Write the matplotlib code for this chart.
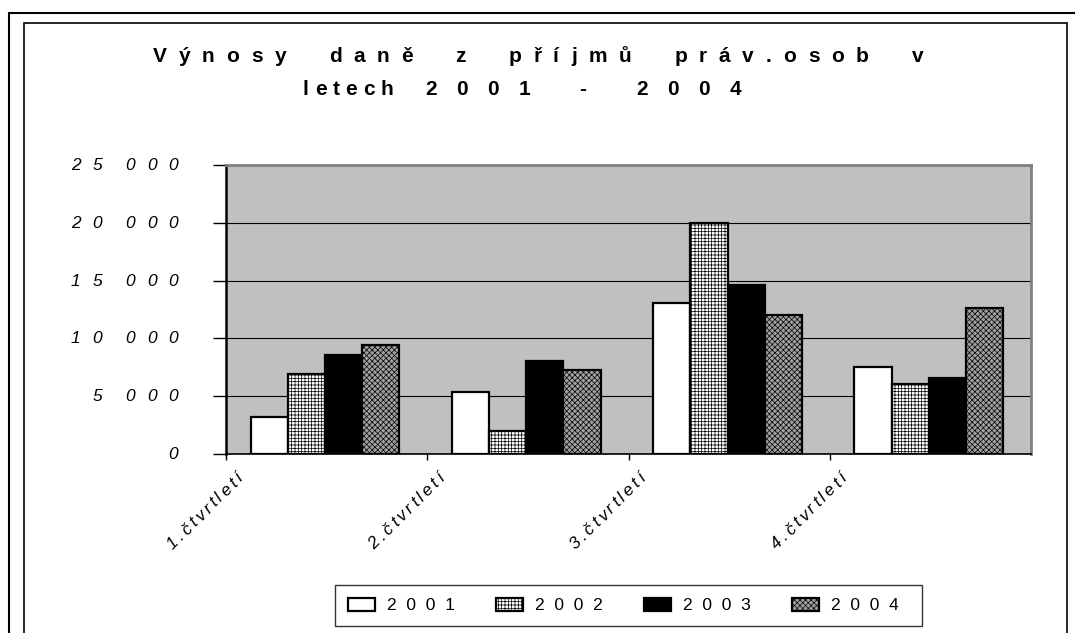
import numpy as np
import matplotlib.pyplot as plt
from matplotlib.patches import Rectangle
from matplotlib.font_manager import FontProperties

# ----------------------------------------------------------------------------------------------------------------------

quarters = ['1.čtvrtletí', '2.čtvrtletí', '3.čtvrtletí', '4.čtvrtletí']
years = ['2001', '2002', '2003', '2004']
v2001 = [3200, 5400, 13100, 7550]
v2002 = [6900, 2000, 20000, 6050]
v2003 = [8600, 8050, 14650, 6550]
v2004 = [9450, 7250, 12000, 12600]
y_ticks = [0, 5000, 10000, 15000, 20000, 25000]

title_1 = 'Výnosy daně z příjmů práv.osob v'
title_2a = 'letech'
title_2b = '2001 - 2004'

# ----------------------------------------------------------------------------------------------------------------------

W, H = 1075, 633
FAM = ['Liberation Sans', 'DejaVu Sans']
plt.rcParams['font.family'] = FAM
plt.rcParams['hatch.linewidth'] = 0.5


def glyph_w(renderer, ch, fp):
    w, h, d = renderer.get_text_width_height_descent(ch, fp, ismath=False)
    return w


def layout(renderer, s, fp, track, gap):
    # letter-spaced text, the way the old spreadsheet drew it
    items, x = [], 0.0
    for ch in s:
        if ch == ' ':
            x += gap
            continue
        items.append((ch, x))
        x += glyph_w(renderer, ch, fp) + track
    return items, x - track


def draw_spaced(fig, renderer, s, fp, x, y, track, gap, ha='center', angle=0.0):
    # x, y in pixels, y measured from the top of the picture; anchor on the baseline
    items, total = layout(renderer, s, fp, track, gap)
    if ha == 'center':
        start = -total / 2
    elif ha == 'right':
        start = -total
    else:
        start = 0.0
    c, sn = np.cos(np.radians(angle)), np.sin(np.radians(angle))
    for ch, off in items:
        d = start + off
        px, py = x + d * c, (H - y) + d * sn
        fig.text(px / W, py / H, ch, fontproperties=fp, ha='left', va='baseline',
                 rotation=angle, rotation_mode='anchor')

# ----------------------------------------------------------------------------------------------------------------------

fig = plt.figure(figsize=(W / 100, H / 100), dpi=100)
fig.patch.set_facecolor('white')
renderer = fig.canvas.get_renderer()

# frames
fig.patches.append(Rectangle((9 / W, -0.2), 2.0, (H - 12.7) / H + 0.2, transform=fig.transFigure,
                             fill=False, edgecolor='black', linewidth=1.5))
fig.patches.append(Rectangle((24 / W, -0.2), (1067 - 24) / W, (H - 23) / H + 0.2, transform=fig.transFigure,
                             fill=False, edgecolor='black', linewidth=1.2))

ax = fig.add_axes([226 / W, (H - 454) / H, (1031 - 226) / W, (454 - 165) / H])
ax.set_facecolor('#c0c0c0')

series = [v2001, v2002, v2003, v2004]
faces = ['white', 'white', 'black', '#a0a0a0']
hatches = [None, '+++++', None, 'xxxxxx']
bw = 0.185
x = np.arange(len(quarters))
for k, (vals, fc, h) in enumerate(zip(series, faces, hatches)):
    ax.bar(x + 0.122 + bw * (k + 0.5), vals, width=bw, color=fc, edgecolor='black',
           linewidth=1.6, hatch=h, zorder=3, label='  '.join(years[k]) + '  ')

ax.set_xlim(0, 4)
ax.set_ylim(0, 25000)
ax.set_yticks(y_ticks)
ax.set_xticks(x)
ax.yaxis.grid(True, color='black', linewidth=0.8, zorder=1)
ax.set_axisbelow(True)
ax.tick_params(axis='y', length=9.5, width=1, labelleft=False)
ax.tick_params(axis='x', length=4.5, width=1, labelbottom=False)

for side in ['top', 'right']:
    ax.spines[side].set_color('#808080')
    ax.spines[side].set_linewidth(2)
ax.spines['left'].set_linewidth(1.8)
ax.spines['bottom'].set_linewidth(1.2)

# y tick labels
fp_y = FontProperties(family=FAM, size=12.5, style='italic')
for v in y_ticks:
    ty = H - ax.transData.transform((0, v))[1]
    draw_spaced(fig, renderer, f'{v:,}'.replace(',', ' '), fp_y, 178, ty + 5, track=12, gap=11, ha='right')

# x tick labels, rotated
fp_x = FontProperties(family=FAM, size=12.5, style='italic')
for i, q in enumerate(quarters):
    tx = ax.transData.transform((i, 0))[0]
    draw_spaced(fig, renderer, q, fp_x, tx + 18, 479, track=3, gap=4, ha='right', angle=45)

# title
fp_t = FontProperties(family=FAM, size=15, weight='bold')
draw_spaced(fig, renderer, title_1, fp_t, 538, 62, track=11.8, gap=30.8)
draw_spaced(fig, renderer, title_2a, fp_t, 303, 95, track=6, gap=0, ha='left')
draw_spaced(fig, renderer, title_2b, fp_t, 425, 95, track=19.5, gap=30, ha='left')

leg = ax.legend(loc='center', bbox_to_anchor=(628.5 / W, 1 - 605.5 / H), bbox_transform=fig.transFigure,
                ncol=4, fontsize=12.5, frameon=True, fancybox=False, handlelength=1.55, handleheight=0.8,
                handletextpad=0.7, columnspacing=1.8, borderpad=0.75)
leg.get_frame().set_edgecolor('black')
leg.get_frame().set_linewidth(1)

fig.savefig('out.png', dpi=100)
